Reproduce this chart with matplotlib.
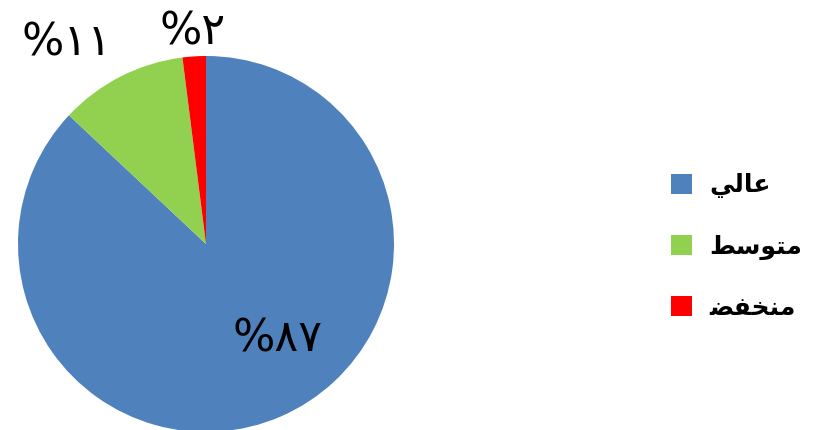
import matplotlib.pyplot as plt

# بيانات المخطط
labels = ["عالي", "متوسط", "منخفض"]
values = [87, 11, 2]
pct_labels = ["%٨٧", "%١١", "%٢"]
colors = ["#4F81BD", "#92D050", "#FF0000"]

# matplotlib لا يقوم بتشكيل الحروف العربية، لذلك نكتبها بأشكال العرض وبالترتيب المرئي
shaped = {
    "عالي": "\uFEF2\uFEDF\uFE8E\uFECB",
    "متوسط": "\uFEC2\uFEB3\uFEEE\uFE98\uFEE3",
    "منخفض": "\uFEC0\uFED4\uFEA8\uFEE8\uFEE3",
}

W, H = 821, 430
fig = plt.figure(figsize=(W / 100, H / 100), dpi=100)

# مربع المحور بالبكسل: المركز (206, 244) ونصف القطر 188
cx, cy, r = 206, 244, 188
ax = fig.add_axes([(cx - r) / W, (H - cy - r) / H, 2 * r / W, 2 * r / H])
wedges, _ = ax.pie(values, colors=colors, startangle=90, counterclock=False,
                   radius=1, wedgeprops=dict(linewidth=0))
ax.set_xlim(-1, 1)
ax.set_ylim(-1, 1)
ax.axis("off")

# نسب مئوية
pos = [(278, 339), (67, 43), (193, 32)]
for t, (px, py) in zip(pct_labels, pos):
    fig.text(px / W, 1 - py / H, t, fontsize=32, ha="center", va="center",
             family=["DejaVu Sans"])

leg = fig.legend(wedges, [shaped[l] for l in labels], loc="upper left",
                 bbox_to_anchor=(648 / W, 1 - 151 / H), frameon=False,
                 handlelength=0.85, handleheight=0.85, labelspacing=1.45,
                 handletextpad=0.7,
                 prop=dict(family="DejaVu Sans", weight="bold", size=18))

fig.savefig("out.png", dpi=100)
